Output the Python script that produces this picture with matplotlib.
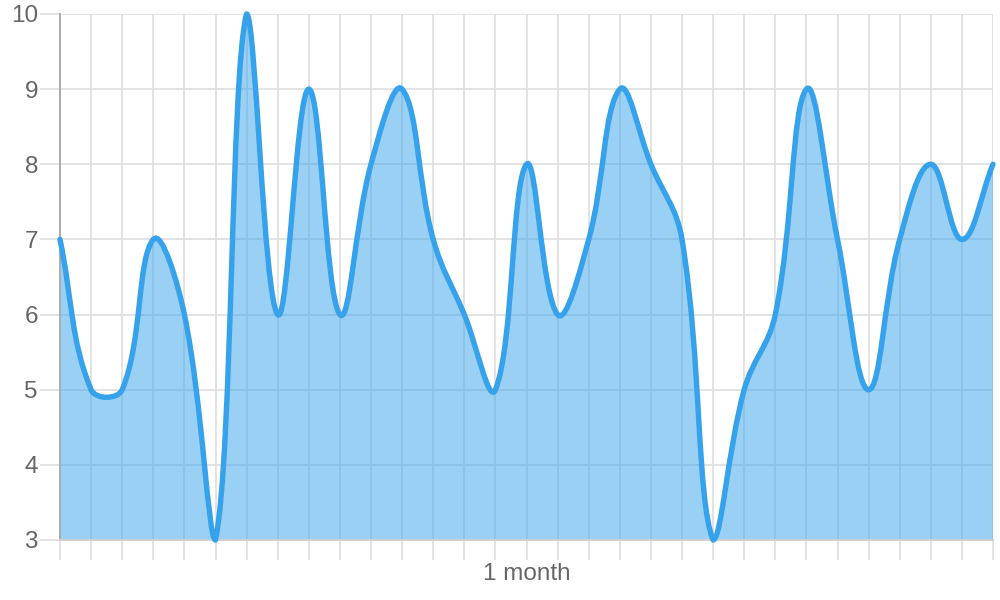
import matplotlib
matplotlib.use("Agg")
import matplotlib.pyplot as plt
from matplotlib.path import Path
from matplotlib.patches import PathPatch
import numpy as np

# ---- data ----
values = [7, 5, 5, 7, 6, 3, 10, 6, 9, 6, 8, 9, 7, 6, 5, 8, 6, 7, 9, 8, 7, 3, 5, 6, 9, 7, 5, 7, 8, 7, 8]
x_labels = [""] * 15 + ["1 month"] + [""] * 15
y_ticks = [3, 4, 5, 6, 7, 8, 9, 10]

LINE = "#36A2EB"
FILL = (54 / 255, 162 / 255, 235 / 255, 0.5)
GRID = "#e0e0e0"
TEXT = "#666666"

plt.rcParams["font.family"] = ["Liberation Sans", "DejaVu Sans"]

fig = plt.figure(figsize=(10, 6), dpi=100)
ax = fig.add_axes([0.060, 0.100, 0.933, 0.8767])
xs = np.arange(len(values))
ax.set_xlim(0, len(values) - 1)
ax.set_ylim(min(y_ticks), max(y_ticks))

# Chart.js-style bezier spline (tension 0.4) computed in pixel space
pts = ax.transData.transform(np.column_stack([xs, values]).astype(float))
bb = ax.bbox
t = 0.4
n = len(pts)
cprev, cnext = [], []
for i in range(n):
    p0 = pts[max(i - 1, 0)]
    p1 = pts[i]
    p2 = pts[min(i + 1, n - 1)]
    d01 = np.hypot(*(p1 - p0))
    d12 = np.hypot(*(p2 - p1))
    s = d01 + d12
    s01 = d01 / s if s else 0.0
    s12 = d12 / s if s else 0.0
    a = p1 - t * s01 * (p2 - p0)
    b = p1 + t * s12 * (p2 - p0)
    for c in (a, b):
        c[0] = min(max(c[0], bb.x0), bb.x1)
        c[1] = min(max(c[1], bb.y0), bb.y1)
    cprev.append(a)
    cnext.append(b)

verts = [pts[0]]
codes = [Path.MOVETO]
for i in range(n - 1):
    verts += [cnext[i], cprev[i + 1], pts[i + 1]]
    codes += [Path.CURVE4] * 3
verts = ax.transData.inverted().transform(np.array(verts))

line_path = Path(verts, codes)
fill_verts = np.vstack([verts, [[xs[-1], min(y_ticks)], [xs[0], min(y_ticks)], verts[0]]])
fill_codes = codes + [Path.LINETO, Path.LINETO, Path.CLOSEPOLY]
fill_path = Path(fill_verts, fill_codes)

ax.add_patch(PathPatch(fill_path, facecolor=FILL, edgecolor="none", zorder=2))
ax.add_patch(PathPatch(line_path, facecolor="none", edgecolor=LINE, lw=3.9,
                       capstyle="round", joinstyle="round", zorder=3, clip_on=False))

# axes styling
ax.set_xticks(xs)
ax.set_xticklabels(x_labels)
ax.set_yticks(y_ticks)
ax.set_yticklabels([str(v) for v in y_ticks])
ax.grid(True, color=GRID, lw=1.3, zorder=0)
ax.set_axisbelow(True)
for s in ("top", "right"):
    ax.spines[s].set_visible(False)
ax.spines["left"].set_color("#ababab")
ax.spines["left"].set_linewidth(1.4)
ax.spines["bottom"].set_color("#cfcfcf")
ax.spines["bottom"].set_linewidth(1.4)
ax.tick_params(axis="both", length=14.4, width=1.3, color=GRID, labelcolor=TEXT, labelsize=17.5)
ax.tick_params(axis="y", pad=1.5)
ax.tick_params(axis="x", pad=2.5)

fig.savefig("out.png", dpi=100)
